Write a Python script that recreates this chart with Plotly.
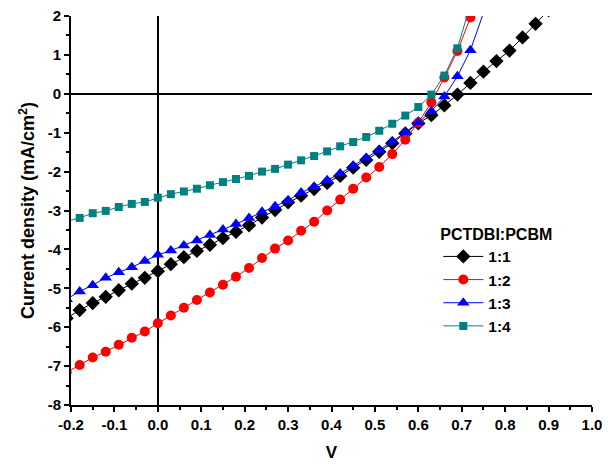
import plotly.graph_objects as go

voltage = [-0.21, -0.18, -0.15, -0.12, -0.09, -0.06, -0.03, 0.00, 0.03, 0.06,
           0.09, 0.12, 0.15, 0.18, 0.21, 0.24, 0.27, 0.30, 0.33, 0.36,
           0.39, 0.42, 0.45, 0.48, 0.51, 0.54, 0.57, 0.60, 0.63, 0.66,
           0.69, 0.72, 0.75, 0.78, 0.81, 0.84, 0.87, 0.90]

j_11 = [-5.77, -5.56, -5.38, -5.22, -5.05, -4.88, -4.73, -4.56, -4.38, -4.20,
        -4.04, -3.88, -3.71, -3.55, -3.38, -3.18, -2.99, -2.79, -2.62, -2.45,
        -2.29, -2.11, -1.90, -1.70, -1.49, -1.27, -1.02, -0.76, -0.55, -0.30,
        -0.02, 0.28, 0.57, 0.84, 1.11, 1.45, 1.80, 2.15]

j_12 = [-7.16, -6.97, -6.78, -6.63, -6.45, -6.27, -6.11, -5.90, -5.70, -5.50,
        -5.30, -5.11, -4.91, -4.70, -4.48, -4.22, -3.98, -3.77, -3.52, -3.29,
        -3.00, -2.72, -2.44, -2.15, -1.88, -1.55, -1.18, -0.74, -0.22, 0.42,
        1.10, 1.96, 2.90]

j_13 = [-5.28, -5.08, -4.92, -4.73, -4.59, -4.46, -4.30, -4.14, -4.03, -3.90,
        -3.77, -3.63, -3.49, -3.35, -3.19, -3.03, -2.89, -2.74, -2.54, -2.39,
        -2.22, -2.05, -1.85, -1.65, -1.45, -1.23, -0.99, -0.74, -0.44, -0.07,
        0.45, 1.12, 2.08]

j_14 = [-3.28, -3.19, -3.07, -3.01, -2.91, -2.83, -2.78, -2.67, -2.58, -2.51,
        -2.44, -2.35, -2.27, -2.19, -2.11, -2.00, -1.93, -1.82, -1.71, -1.60,
        -1.48, -1.35, -1.24, -1.11, -0.95, -0.77, -0.56, -0.34, -0.02, 0.47,
        1.17, 2.30]

series_names = ["1:1", "1:2", "1:3", "1:4"]
series_values = [j_11, j_12, j_13, j_14]
colors = ["#000000", "#FF0000", "#0000FF", "#008080"]
symbols = ["diamond", "circle", "triangle-up", "square"]
sizes = [11, 10, 11, 8]

x_tick_vals = [-0.2, -0.1, 0.0, 0.1, 0.2, 0.3, 0.4, 0.5, 0.6, 0.7, 0.8, 0.9, 1.0]
x_tick_text = ["-0.2", "-0.1", "0.0", "0.1", "0.2", "0.3", "0.4", "0.5", "0.6", "0.7", "0.8", "0.9", "1.0"]
y_tick_vals = [-8, -7, -6, -5, -4, -3, -2, -1, 0, 1, 2]
y_tick_text = ["-8", "-7", "-6", "-5", "-4", "-3", "-2", "-1", "0", "1", "2"]

FONT = "Liberation Sans, Arial, sans-serif"

fig = go.Figure()
for name, vals, c, s, sz in zip(series_names, series_values, colors, symbols, sizes):
    fig.add_trace(go.Scatter(
        x=voltage[:len(vals)], y=vals, name="<b>" + name + "</b>", mode="lines+markers",
        line=dict(color=c, width=1),
        marker=dict(symbol=s, size=sz, color=c, line=dict(width=0)),
        cliponaxis=True,
    ))

axis_common = dict(
    showline=True, linecolor="black", linewidth=2,
    showgrid=False, zeroline=True, zerolinecolor="black", zerolinewidth=2,
    ticks="outside", ticklen=5, tickwidth=2, tickcolor="black",
    tickfont=dict(family=FONT, size=15, color="black"),
    mirror=False, automargin=False,
)

fig.update_layout(
    width=608, height=468,
    margin=dict(l=71, r=16, t=16, b=63),
    paper_bgcolor="white", plot_bgcolor="white",
    showlegend=True,
    legend=dict(
        title=dict(text="<b>PCTDBI:PCBM</b>", font=dict(family=FONT, size=16, color="black")),
        font=dict(family=FONT, size=15.5, color="black"),
        x=0.705, y=0.478, xanchor="left", yanchor="top",
        bgcolor="rgba(0,0,0,0)", borderwidth=0, itemwidth=40,
        tracegroupgap=0,
    ),
    xaxis=dict(
        range=[-0.2, 1.0], tickmode="array", tickvals=x_tick_vals,
        ticktext=["<b>" + t + "</b>" for t in x_tick_text],
        minor=dict(dtick=0.05, tick0=0, ticks="outside", ticklen=3, tickwidth=2, tickcolor="black"),
        title=dict(text="<b>V</b>", font=dict(family=FONT, size=17, color="black"), standoff=14),
        **axis_common,
    ),
    yaxis=dict(
        range=[-8, 2], tickmode="array", tickvals=y_tick_vals,
        ticktext=["<b>" + t + "</b>" for t in y_tick_text],
        minor=dict(dtick=0.5, tick0=0, ticks="outside", ticklen=3, tickwidth=2, tickcolor="black"),
        title=dict(text="<b>Current density (mA/cm<sup>2</sup>)</b>",
                   font=dict(family=FONT, size=18, color="black"), standoff=8),
        **axis_common,
    ),
)

fig.write_html("out.html")
